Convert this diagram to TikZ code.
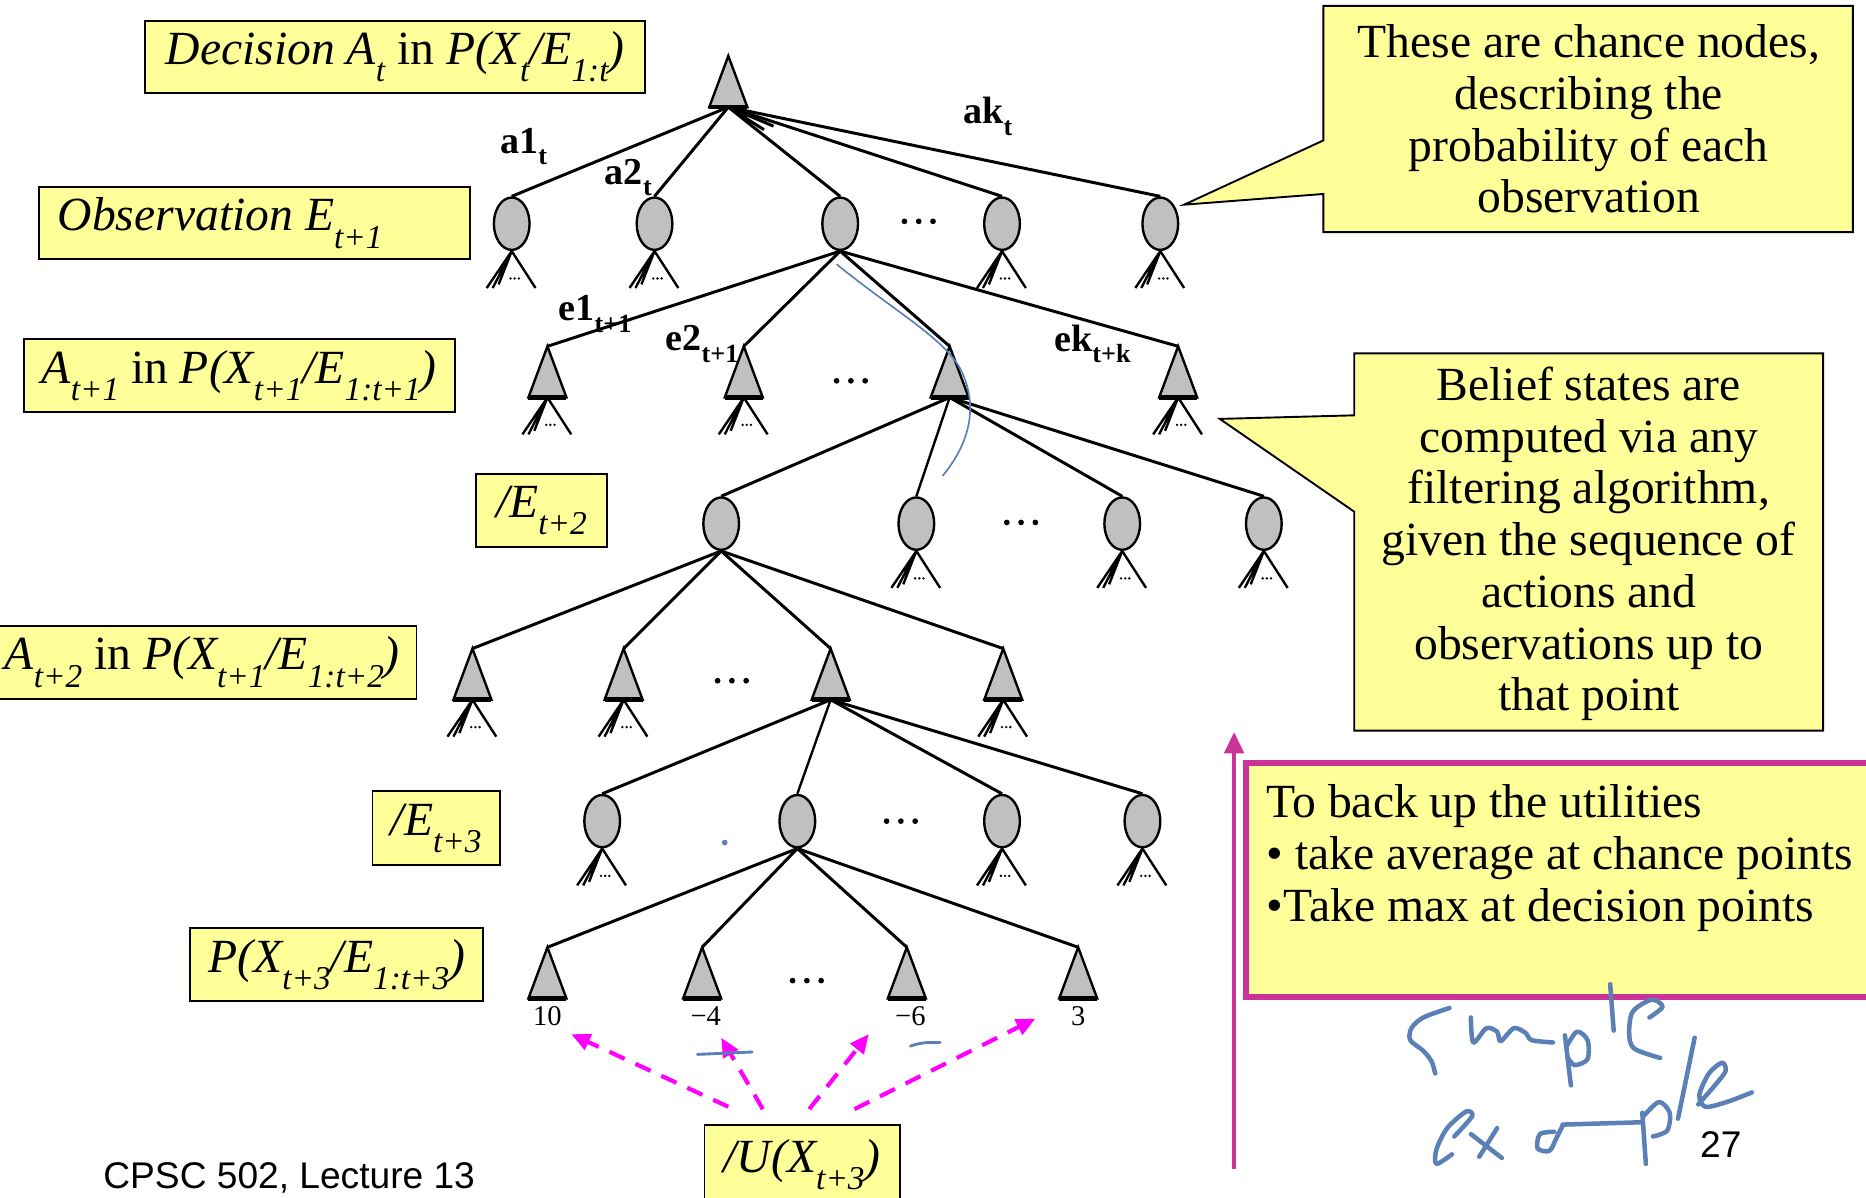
\documentclass[tikz,border=0pt]{standalone}
\usepackage{fontspec}
\setmainfont{Liberation Serif}
\newfontfamily\labsans{Liberation Sans}
\usetikzlibrary{arrows.meta,shapes.geometric}

\definecolor{notey}{HTML}{FFFF99}
\definecolor{nodegray}{HTML}{C0C0C0}
\definecolor{boxmag}{HTML}{CC3399}
\definecolor{dashmag}{HTML}{FF00FF}
\definecolor{ink}{HTML}{5A80B6}

% subscripts for the italic labels and for the bold edge labels
\newcommand\sbs[1]{\raisebox{-0.36em}{\fontsize{14}{14}\selectfont #1}}
\newcommand\esb[1]{\raisebox{-0.3em}{\fontsize{11}{11}\selectfont #1}}

\tikzset{
  lab/.style={draw=black, line width=0.8pt, fill=notey, inner sep=0pt,
              font=\fontsize{20}{22}\selectfont},
  chance/.style={ellipse, draw=black, line width=1pt, fill=nodegray,
                 minimum width=15pt, minimum height=22pt, inner sep=0pt},
  tri/.style={draw=black, line width=1pt, fill=nodegray, line join=miter},
  edge/.style={line width=1.25pt},
  fanline/.style={line width=1pt},
  elab/.style={font=\fontsize{16}{16}\selectfont\bfseries, inner sep=0pt},
  leaf/.style={font=\fontsize{12}{12}\selectfont, inner sep=0pt},
  callout/.style={draw=black, line width=0.8pt, fill=notey},
  ctext/.style={font=\fontsize{20}{21.75}\selectfont, align=center, inner sep=0pt},
  udash/.style={draw=dashmag, line width=1.75pt, dash pattern=on 7pt off 5pt,
                -{Triangle[length=8pt,width=7pt]}},
  pen/.style={draw=ink, line width=1.9pt, line cap=round, line join=round},
}

% decision node: apex coordinate #1, base centre #1-b
\newcommand\decnode[3]{%
  \coordinate (#1) at (#2,#3);
  \coordinate (#1-b) at (#2,#3+43);
  \filldraw[tri] (#2,#3) -- (#2-16,#3+43) -- (#2+16,#3+43) -- cycle;
  \draw[line width=2pt] (#2-16,#3+43) -- (#2+16,#3+43);
}
% unexpanded subtree below a node
\newcommand\fanout[1]{%
  \draw[fanline] (#1) -- +(-21,31) (#1) -- +(-16,31) (#1) -- +(-11,28) (#1) -- +(20,31);
  \fill (#1) ++(-1,23) circle (0.55pt) ++(3.5,0) circle (0.55pt) ++(3.5,0) circle (0.55pt);
}
% ellipsis between siblings
\newcommand\sibdots[2]{%
  \fill (#1-12,#2) circle (1.2pt) (#1,#2) circle (1.2pt) (#1+12,#2) circle (1.2pt);
}

\begin{document}
\begin{tikzpicture}[x=0.5pt,y=-0.5pt]
\useasboundingbox (0,0) rectangle (1568,1006);

% ---------- level labels ----------
\node[lab, minimum width=210pt, minimum height=30pt] (lDec) at (332,48)
  {\raisebox{-1.5pt}{\textit{Decision A\sbs{t}} in \textit{P(X\sbs{t}/E\sbs{1:t})}}};
\node[lab, minimum width=181pt, minimum height=30.5pt] (lObs) at (214,187.5)
  {\raisebox{-1.5pt}{\textit{Observation E\sbs{t+1}}}\hspace*{29pt}\mbox{}};
\node[lab, minimum width=181pt, minimum height=30.5pt] (lA1) at (201,315.5)
  {\raisebox{-1.5pt}{\textit{A\sbs{t+1}} in \textit{P(X\sbs{t+1}/E\sbs{1:t+1})}}};
\node[lab, minimum width=55pt, minimum height=31pt] (lE2) at (455,429)
  {\raisebox{-1.5pt}{\textit{/E\sbs{t+2}}}};
\node[lab, minimum width=180pt, minimum height=30.5pt] (lA2) at (170,556.5)
  {\raisebox{-1.5pt}{\textit{A\sbs{t+2}} in \textit{P(X\sbs{t+1}/E\sbs{1:t+2})}}};
\node[lab, minimum width=53.5pt, minimum height=31pt] (lE3) at (366.5,696)
  {\raisebox{-1.5pt}{\textit{/E\sbs{t+3}}}};
\node[lab, minimum width=123pt, minimum height=30.5pt] (lP3) at (283,810.5)
  {\raisebox{-1.5pt}{\textit{P(X\sbs{t+3}/E\sbs{1:t+3})}}};
\node[lab, minimum width=82pt, minimum height=34pt] (lU) at (674,979)
  {\raisebox{-1.5pt}{\textit{/U(X\sbs{t+3})}}};

% ---------- callouts ----------
\filldraw[callout] (1112,5) -- (1557,5) -- (1557,195) -- (1112,195) -- (1112,163)
  -- (995,172) -- (1112,118) -- cycle;
\node[ctext] (cA) at (1335,100)
  {These are chance nodes,\\ describing the\\ probability of each\\ observation};

\filldraw[callout] (1138,297) -- (1532,297) -- (1532,614) -- (1138,614) -- (1138,430)
  -- (1025,352) -- (1138,349) -- cycle;
\node[ctext] (cB) at (1335,457)
  {Belief states are\\ computed via any\\ filtering algorithm,\\ given the sequence of\\ actions and\\ observations up to\\ that point};

\filldraw[draw=boxmag, line width=2.6pt, fill=notey] (1047,641) rectangle (1590,838);
\node[ctext, align=left, anchor=west] (cC) at (1064,721)
  {To back up the utilities\\ \textbullet{} take average at chance points\\ \textbullet Take max at decision points};

% upward magenta arrow
\coordinate (upA) at (1037,982);
\coordinate (upB) at (1037,615);
\draw[boxmag, line width=2pt, -{Triangle[length=9pt,width=8pt]}] (upA) -- (upB);

% ---------- tree ----------
\decnode{r0}{612}{47}

\foreach \n/\x in {o1/430,o2/550,o3/706,o4/842,o5/975}
  {\node[chance] (\n) at (\x,188) {};}
\sibdots{772}{186}

\decnode{d1}{460}{291}
\decnode{d2}{625}{291}
\decnode{d3}{798}{291}
\decnode{d4}{990}{291}
\sibdots{715}{320}

\foreach \n/\x in {p1/606,p2/770,p3/943,p4/1062}
  {\node[chance] (\n) at (\x,440) {};}
\sibdots{858}{439}

\decnode{q1}{397}{545}
\decnode{q2}{524}{545}
\decnode{q3}{698}{545}
\decnode{q4}{843}{545}
\sibdots{615}{572}

\foreach \n/\x in {s1/506,s2/670,s3/842,s4/960}
  {\node[chance] (\n) at (\x,690) {};}
\sibdots{757}{690}

\decnode{u1}{460}{796}
\decnode{u2}{590}{796}
\decnode{u3}{762}{796}
\decnode{u4}{906}{796}
\sibdots{678}{824}

% edges
\foreach \n in {o1,o2,o3,o4,o5} {\draw[edge] (r0-b) -- (\n.north);}
\draw[edge] (r0-b) -- +(30,19) (r0-b) -- +(38,16);
\foreach \n in {d1,d2,d3,d4} {\draw[edge] (o3.south) -- (\n);}
\foreach \n in {p1,p3,p4} {\draw[edge] (d3-b) -- (\n.north);}
\draw[line width=1pt] (d3-b) -- (p2.north);
\foreach \n in {q1,q2,q3,q4} {\draw[edge] (p1.south) -- (\n);}
\foreach \n in {s1,s3,s4} {\draw[edge] (q3-b) -- (\n.north);}
\draw[line width=1pt] (q3-b) -- (s2.north);
\foreach \n in {u1,u2,u3,u4} {\draw[edge] (s2.south) -- (\n);}

% unexpanded subtrees
\foreach \n in {o1,o2,o4,o5,p2,p3,p4,s1,s3,s4} {\fanout{\n.south}}
\foreach \n in {d1,d2,d4,q1,q2,q4} {\fanout{\n-b}}

% edge labels
\node[elab] (ea1) at (440,123) {a1\esb{t}};
\node[elab] (ea2) at (528,149) {a2\esb{t}};
\node[elab] (eak) at (830,98) {ak\esb{t}};
\node[elab] (ee1) at (500,264) {e1\esb{t+1}};
\node[elab] (ee2) at (590,289) {e2\esb{t+1}};
\node[elab] (eek) at (918,289) {ek\esb{t+k}};

% utilities at the leaves
\node[leaf] (v1) at (460,854) {10};
\node[leaf] (v2) at (593,854) {−4};
\node[leaf] (v3) at (765,854) {−6};
\node[leaf] (v4) at (906,854) {3};

% dashed arrows from the utility label to the leaves
\coordinate (t1) at (612,930); \coordinate (h1) at (480,869);
\coordinate (t2) at (641,932); \coordinate (h2) at (606,872);
\coordinate (t3) at (680,932); \coordinate (h3) at (730,869);
\coordinate (t4) at (718,932); \coordinate (h4) at (870,856);
\foreach \i in {1,2,3,4} {\draw[udash] (t\i) -- (h\i);}

% ---------- pen annotations ----------
\draw[draw=ink, line width=0.7pt] (703,222) .. controls (752,262) and (795,285) .. (808,312)
  .. controls (822,342) and (815,372) .. (792,400);
\fill[ink] (609,708) circle (1.2pt);
\draw[pen, line width=1.2pt] (586,886) -- (632,884);
\draw[pen, line width=1.2pt] (765,879) .. controls (775,876) .. (790,876);

% "simple"
\draw[pen] plot[smooth] coordinates {(1218,847) (1196,855) (1186,864) (1185,874) (1196,883) (1203,892) (1206,902)};
\draw[pen] plot[smooth] coordinates {(1236,855) (1238,876) (1249,864) (1258,867) (1261,875) (1272,864) (1282,868) (1287,874) (1305,876)};
\draw[pen] (1315,870) -- (1320,912);
\draw[pen] plot[smooth] coordinates {(1316,880) (1325,867) (1334,874) (1334,890) (1323,895) (1317,888)};
\draw[pen] (1353,827) -- (1356,866);
\draw[pen] plot[smooth] coordinates {(1386,855) (1397,846) (1388,840) (1372,850) (1369,868) (1373,881) (1395,889)};
% "example"
\draw[pen] plot[smooth] coordinates {(1222,955) (1237,938) (1232,934) (1216,948) (1207,966) (1207,978) (1220,970)};
\draw[pen] (1236,953) -- (1262,973);
\draw[pen] (1258,948) -- (1243,972);
\draw[pen] plot[smooth] coordinates {(1306,951) (1294,953) (1292,965) (1302,967) (1308,956) (1313,946)};
\draw[pen] (1313,945) -- (1380,943);
\draw[pen] (1380,935) -- (1383,978);
\draw[pen] plot[smooth] coordinates {(1381,938) (1394,926) (1403,935) (1401,950) (1389,955)};
\draw[pen] (1424,872) -- (1410,940);
\draw[pen] plot[smooth] coordinates {(1427,928) (1441,912) (1450,900) (1447,893) (1436,902) (1428,920) (1433,930) (1451,926) (1472,918)};

% ---------- footer ----------
\node[font=\labsans\fontsize{15.6}{16}\selectfont, inner sep=0pt] (ftL) at (243,990) {CPSC 502, Lecture 13};
\node[font=\labsans\fontsize{15.6}{16}\selectfont, inner sep=0pt] (ftR) at (1446,962) {27};
\end{tikzpicture}
\end{document}
